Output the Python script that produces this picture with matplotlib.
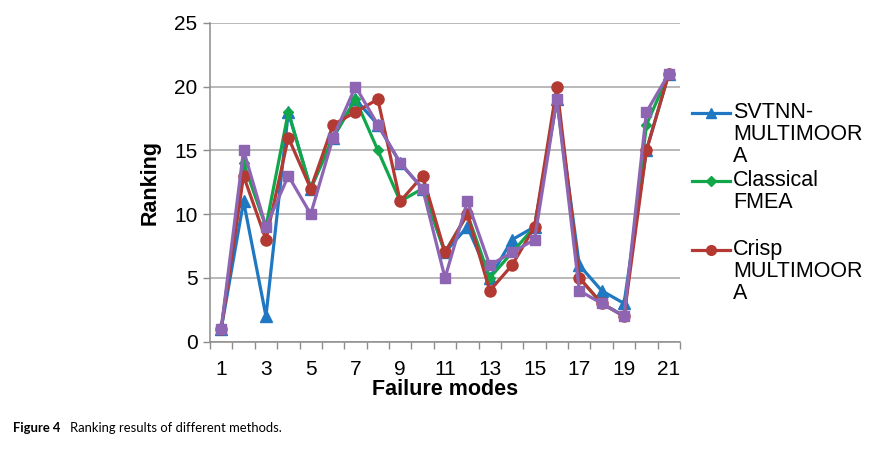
import matplotlib
matplotlib.use("Agg")
import matplotlib.pyplot as plt
from matplotlib.lines import Line2D

modes = list(range(1, 22))
svtnn = [1, 11, 2, 18, 12, 16, 19, 17, 14, 12, 7, 9, 5, 8, 9, 19, 6, 4, 3, 15, 21]
classical = [1, 14, 9, 18, 12, 16, 19, 15, 11, 12, 7, 10, 5, 7, 9, 19, 5, 3, 2, 17, 21]
crisp = [1, 13, 8, 16, 12, 17, 18, 19, 11, 13, 7, 10, 4, 6, 9, 20, 5, 3, 2, 15, 21]
fourth = [1, 15, 9, 13, 10, 16, 20, 17, 14, 12, 5, 11, 6, 7, 8, 19, 4, 3, 2, 18, 21]
legend_labels = ["SVTNN-\nMULTIMOOR\nA", "Classical\nFMEA", "Crisp\nMULTIMOOR\nA"]
xtick_labels = [str(i) for i in range(1, 22, 2)]

c_blue = "#1F78C1"
c_green = "#12A64A"
c_red = "#B23A33"
c_purple = "#8D65B3"

plt.rcParams['font.family'] = ['Liberation Sans', 'DejaVu Sans']

fig = plt.figure(figsize=(8.81, 4.5), dpi=100)
ax = fig.add_axes([210/881, 1-341.7/450, 470/881, 319/450])

lw = 2.3
ax.plot(modes, svtnn, color=c_blue, lw=lw, marker='^', ms=8, zorder=3)
ax.plot(modes, classical, color=c_green, lw=lw, marker='D', ms=5.5, zorder=4)
ax.plot(modes, crisp, color=c_red, lw=lw, marker='o', ms=8, zorder=5)
ax.plot(modes, fourth, color=c_purple, lw=lw, marker='s', ms=7.5, zorder=6)

ax.set_xlim(0.5, 21.5)
ax.set_ylim(0, 25)
ax.set_yticks(range(0, 26, 5))
ax.set_xticks(range(1, 22, 2))
ax.set_xticklabels(xtick_labels)
ax.set_xticks([i + 0.5 for i in range(0, 22)], minor=True)
ax.tick_params(axis='x', which='major', length=0, labelsize=15, pad=13)
ax.tick_params(axis='x', which='minor', length=5, color='#8C8C8C', width=1)
ax.tick_params(axis='y', length=5, color='#8C8C8C', width=1, labelsize=15, pad=4)

ax.grid(axis='y', color='#A6A6A6', lw=1.1)
ax.set_axisbelow(True)
for s in ['top', 'right']:
    ax.spines[s].set_visible(False)
for s in ['left', 'bottom']:
    ax.spines[s].set_color('#8C8C8C')
    ax.spines[s].set_linewidth(1.1)

ax.set_ylabel("Ranking", fontsize=15.5, fontweight='bold', labelpad=10)
ax.set_xlabel("Failure modes", fontsize=15.5, fontweight='bold', labelpad=0)

# legend (manual)
entries = [(c_blue, '^', 7, 113), (c_green, 'D', 5, 181), (c_red, 'o', 7, 250)]
for (col, mk, ms, ypx), lab in zip(entries, legend_labels):
    yf = 1 - ypx/450
    fig.add_artist(Line2D([692/881, 730/881], [yf, yf], color=col, lw=lw,
                          transform=fig.transFigure))
    fig.add_artist(Line2D([711/881], [yf], color=col, marker=mk, ms=ms,
                          transform=fig.transFigure))
    fig.text(733/881, yf + 11/450, lab, fontsize=15.5, va='top', ha='left',
             linespacing=1.05)

# caption
fig.text(13/881, 1-428/450, "Figure 4", fontsize=9.4, fontweight='bold',
         family=['Lato', 'DejaVu Sans'], va='center', ha='left')
fig.text(70/881, 1-428/450, "Ranking results of different methods.", fontsize=9.4,
         family=['Lato', 'DejaVu Sans'], va='center', ha='left')

fig.savefig("out.png", dpi=100)
